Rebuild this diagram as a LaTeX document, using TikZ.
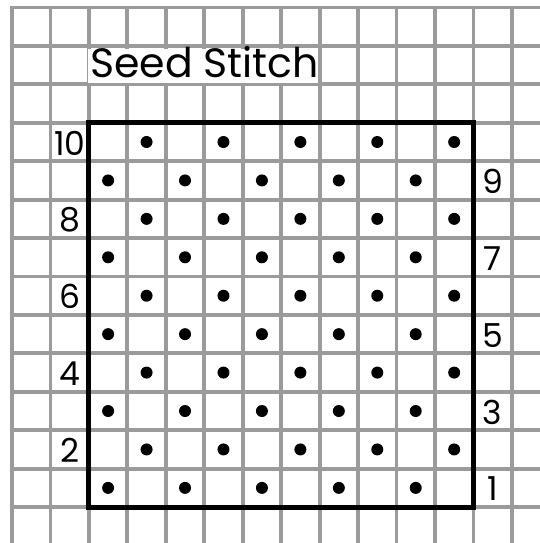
\documentclass[tikz,border=0pt]{standalone}
\usepackage{fontspec}
\setmainfont{Poppins}
\definecolor{gridgray}{RGB}{155,155,155}
\tikzset{
  gridline/.style={draw=gridgray, line width=3.8pt},
  boxline/.style={draw=black, line width=5pt, line join=miter},
  stitchdot/.style={circle, fill=black, inner sep=0pt, minimum size=12pt},
  rowlabel/.style={font=\fontsize{33}{33}\selectfont, inner sep=0pt, anchor=center},
  titletext/.style={font=\fontsize{41}{41}\selectfont, inner sep=0pt, anchor=base west}
}
\begin{document}
\begin{tikzpicture}[x=1pt,y=-1pt]
\def\cx{38.45}
\def\cy{38.43}
\def\xo{12}
\def\yo{7.5}
\useasboundingbox (0,0) rectangle (540,543);
\fill[white] (0,0) rectangle (540,543);
% grid
\foreach \i in {0,...,13} {
  \draw[gridline] ({\xo+\i*\cx},{\yo-1.9}) -- ({\xo+\i*\cx},543);
  \draw[gridline] ({\xo-1.9},{\yo+\i*\cy}) -- (540,{\yo+\i*\cy});
}
% title background
\fill[white] (87.5,48.6) rectangle (317.5,83.2);
\node[titletext] (title) at (90,77.5) {Seed Stitch};
% box
\draw[boxline] ({\xo+2*\cx},{\yo+3*\cy}) rectangle ({\xo+12*\cx},{\yo+13*\cy});
% dots
\foreach \r in {1,...,10} {
  \foreach \c in {1,...,10} {
    \pgfmathtruncatemacro{\parity}{mod(\r+\c,2)}
    \ifnum\parity=0
      \node[stitchdot] (d-\r-\c) at ({\xo+(1.5+\c)*\cx},{\yo+(13.5-\r)*\cy}) {};
    \fi
  }
}
% row labels
\foreach \r in {1,3,5,7,9} {
  \node[rowlabel] (l\r) at ({\xo+12.5*\cx},{\yo+(13.5-\r)*\cy+1}) {\r};
}
\foreach \r in {2,4,6,8,10} {
  \node[rowlabel] (l\r) at ({\xo+1.5*\cx},{\yo+(13.5-\r)*\cy+1}) {\r};
}
\end{tikzpicture}
\end{document}
